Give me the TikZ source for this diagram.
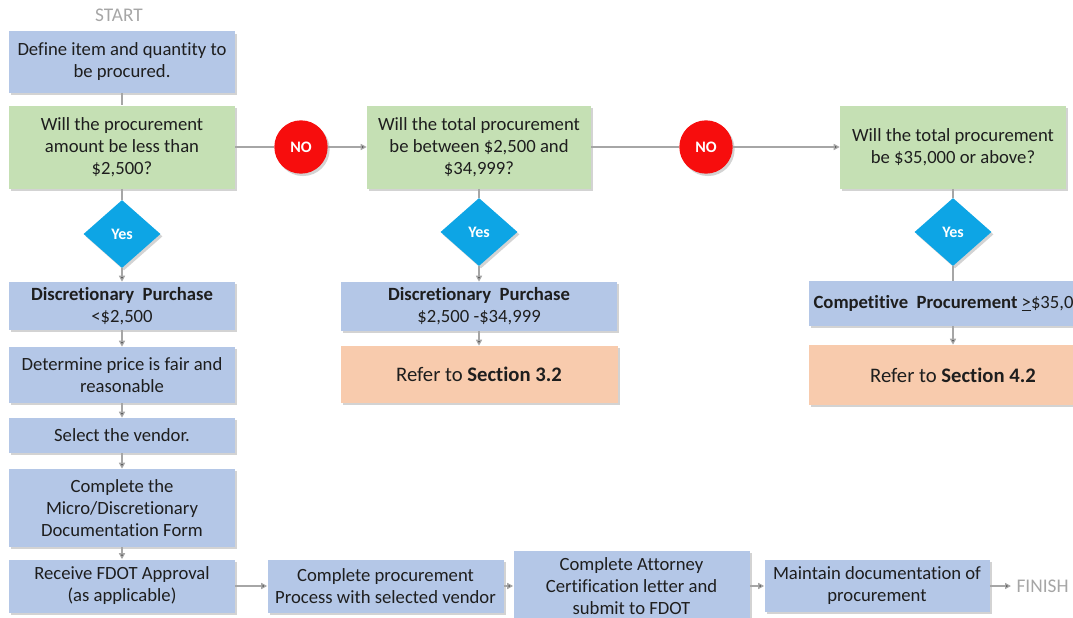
\documentclass[tikz,border=0pt]{standalone}
\usepackage{fontspec}
\setmainfont{Carlito}[Ligatures={NoCommon,NoContextual}]
\usetikzlibrary{arrows.meta,shapes.geometric,shadows}
\definecolor{procblue}{HTML}{B4C7E7}
\definecolor{askgreen}{HTML}{C5E0B4}
\definecolor{refpeach}{HTML}{F8CBAD}
\definecolor{yescyan}{HTML}{0DA5E5}
\definecolor{nored}{HTML}{F70D0D}
\definecolor{linegray}{HTML}{A6A6A6}
\definecolor{inkdark}{HTML}{1E1E1E}
\begin{document}
\begin{tikzpicture}[x=0.75pt,y=-0.75pt,
    font=\fontsize{14}{16.5}\selectfont,
    sz/.style 2 args={minimum width=#1*0.75pt,minimum height=#2*0.75pt},
    shade/.style={drop shadow={shadow xshift=1.5pt,shadow yshift=-1.8pt,opacity=0.35}},
    proc/.style={shade,fill=procblue,text=inkdark,align=center,inner sep=0pt},
    ask/.style={proc,fill=askgreen},
    refer/.style={proc,fill=refpeach,font=\fontsize{15.5}{18}\selectfont},
    yesdia/.style={shade,diamond,fill=yescyan,text=white,inner sep=0pt,
      sz={77}{68},font=\fontsize{12}{14}\bfseries},
    nocirc/.style={shade,circle,fill=nored,text=white,inner sep=0pt,
      minimum size=40pt,font=\fontsize{12}{14}\bfseries},
    term/.style={text=linegray,inner sep=1pt,font=\fontsize{14.5}{17}\selectfont},
    line/.style={draw=linegray,line width=1pt},
    >={Triangle[length=4.5pt,width=4.5pt]}]
    \useasboundingbox (0,0) rectangle (1073,617);
    \clip (0,0) rectangle (1073,617);
    % left column
    \node[term] (Start) at (119,15) {START};
    \node[proc,sz={226}{61}] (Def) at (122,62) {Define item and quantity to\\be procured.};
    \node[ask,sz={226}{83}] (Q1) at (122,147) {Will the procurement\\amount be less than\\\$2,500?};
    \node[yesdia] (Y1) at (122,234) {Yes};
    \node[proc,sz={226}{48}] (DP1) at (122,306) {\textbf{Discretionary\ \ Purchase}\\<\$2,500};
    \node[proc,sz={226}{56}] (Price) at (122,375) {Determine price is fair and\\reasonable};
    \node[proc,sz={226}{35}] (Vendor) at (122,435.5) {Select the vendor.};
    \node[proc,sz={226}{78}] (Form) at (122,508) {Complete the\\Micro/Discretionary\\Documentation Form};
    \node[proc,sz={226}{53}] (Appr) at (122,586) {Receive FDOT Approval\\(as applicable)};
    % bottom row
    \node[proc,sz={236}{53}] (Proc) at (385.5,586) {Complete procurement\\Process with selected vendor};
    \node[proc,sz={236}{70}] (Atty) at (631.5,586) {Complete Attorney\\Certification letter and\\submit to FDOT};
    \node[proc,sz={225}{52}] (Doc) at (877,586) {Maintain documentation of\\procurement};
    \node[term,anchor=west,inner sep=4pt] (Finish) at (1011,586) {FINISH};
    % middle column
    \node[nocirc] (No1) at (301,147) {NO};
    \node[ask,sz={224}{83}] (Q2) at (479,147) {Will the total procurement\\be between \$2,500 and\\\$34,999?};
    \node[yesdia] (Y2) at (479,232) {Yes};
    \node[proc,sz={276}{49}] (DP2) at (479,306.5) {\textbf{Discretionary\ \ Purchase}\\\$2,500 -\$34,999};
    \node[refer,sz={277}{57}] (Ref3) at (479,374.5) {Refer to \textbf{Section 3.2}};
    % right column
    \node[nocirc] (No2) at (706,147) {NO};
    \node[ask,sz={226}{83}] (Q3) at (953,147) {Will the total procurement\\be \$35,000 or above?};
    \node[yesdia] (Y3) at (953,232) {Yes};
    \node[proc,sz={288}{45}] (CP) at (953,303.5) {\textbf{Compet\kern0pt i\kern0pt t\kern0pt ive\ \ Procurement} \underline{>}\$35,000};
    \node[refer,sz={288}{60}] (Ref4) at (953,375) {Refer to \textbf{Section 4.2}};
    \draw[line]
    (Def) edge (Q1)
    (Q1) edge (No1)
    (No1) edge[->] (Q2)
    (Q2) edge (No2)
    (No2) edge[->] (Q3)
    (Q1) edge (Y1)
    (Y1) edge[->] (DP1)
    (DP1) edge[->] (Price)
    (Price) edge[->] (Vendor)
    (Vendor) edge[->] (Form)
    (Form) edge[->] (Appr)
    (Appr) edge[->] (Proc)
    (Proc) edge[->] (Atty)
    (Atty) edge[->] (Doc)
    (Doc) edge[->] (Finish)
    (Q2) edge (Y2)
    (Y2) edge[->] (DP2)
    (DP2) edge[->] (Ref3)
    (Q3) edge (Y3)
    (Y3) edge (CP)
    (CP) edge[->] (Ref4);
\end{tikzpicture}
\end{document}
